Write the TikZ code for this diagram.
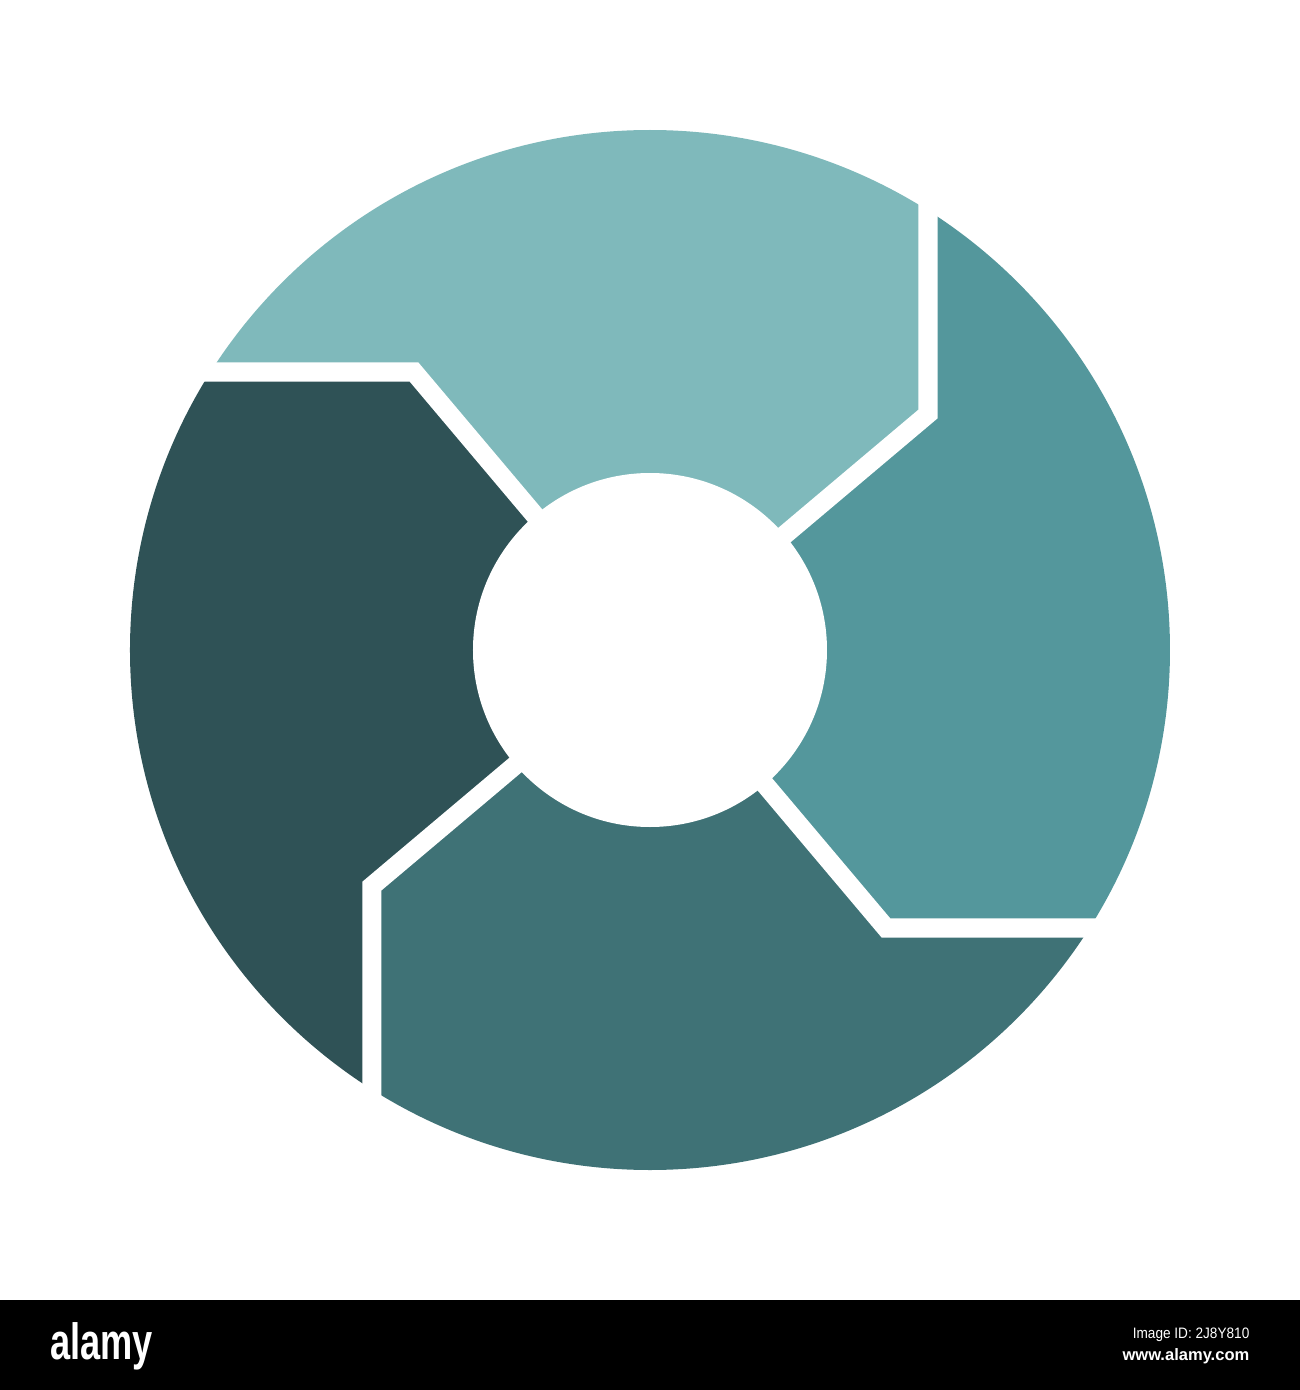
\documentclass[tikz,border=0pt]{standalone}
\usepackage{fontspec}
\setmainfont{Liberation Sans}
\usetikzlibrary{positioning}

\definecolor{ringA}{RGB}{127,185,187}
\definecolor{ringB}{RGB}{84,151,156}
\definecolor{ringC}{RGB}{63,114,118}
\definecolor{ringD}{RGB}{47,82,86}

\begin{document}
\begin{tikzpicture}[
            x = 0.01cm,
            y = 0.01cm,
            gap/.style = {
                white,
                line width = 1.9mm,
                line join = miter
            },
            foot/.style = {
                white,
                inner sep = 0pt,
                font = #1
            },
            foot/.default = \normalsize
            ]
            \useasboundingbox (-650,-740) rectangle (650,650);

            % four ring segments
            \begin{scope}
                \clip (0,0) circle (520);
                \foreach \i/\col in {0/ringA, 1/ringB, 2/ringC, 3/ringD} {
                    \fill[\col, rotate=-90*\i] (0,0) -- (-80,93) -- (-236,278) -- (-640,278)
                        -- (-640,640) -- (278,640) -- (278,236) -- (93,80) -- cycle;
                }
            \end{scope}
            \foreach \i in {0,...,3} {
                \draw[gap, rotate=-90*\i] (-600,278) -- (-236,278) -- (-80,93);
            }
            \fill[white] (0,0) circle (177);

            % footer band
            \fill[black] (-650,-650) rectangle (650,-740);
            \node[foot={\bfseries\fontsize{14.5pt}{15pt}\selectfont}, xscale=0.71, anchor=base west] (logo) at (-600,-709) {alamy};
            \node[foot={\fontsize{4.3pt}{5pt}\selectfont}, xscale=0.9, anchor=base east] (imageid) at (600,-688) {Image ID: 2J8Y810};
            \node[foot={\bfseries\fontsize{4.7pt}{5pt}\selectfont}, anchor=base east] (site) at (600,-710) {www.alamy.com};
        \end{tikzpicture}
\end{document}
